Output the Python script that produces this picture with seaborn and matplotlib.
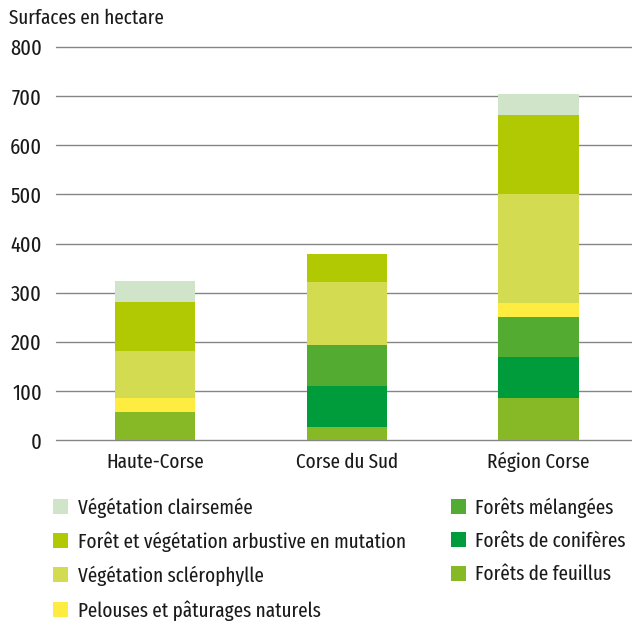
import matplotlib
matplotlib.use("Agg")
import matplotlib.pyplot as plt
from matplotlib.patches import Patch
import numpy as np
import seaborn as sns

# Surfaces (hectares) per territory and land-cover class
categories = ["Haute-Corse", "Corse du Sud", "Région Corse"]
feuillus = [57, 28, 86]
coniferes = [0, 83, 83]
melangees = [0, 82, 82]
pelouses = [30, 0, 29]
sclerophylle = [95, 128, 222]
mutation = [100, 58, 159]
clairsemee = [43, 0, 43]

# stacking order, bottom to top
series = [
    ("Forêts de feuillus", feuillus, "#86b925"),
    ("Forêts de conifères", coniferes, "#009b3b"),
    ("Forêts mélangées", melangees, "#53ab31"),
    ("Pelouses et pâturages naturels", pelouses, "#ffec40"),
    ("Végétation sclérophylle", sclerophylle, "#d3dc50"),
    ("Forêt et végétation arbustive en mutation", mutation, "#b0c903"),
    ("Végétation clairsemée", clairsemee, "#cfe4c8"),
]

sns.set_theme(style="white")
plt.rcParams["font.family"] = ["Fira Sans Extra Condensed", "Fira Sans Condensed",
                               "PT Sans Narrow", "DejaVu Sans"]
FS = 15

fig = plt.figure(figsize=(6.32, 6.23), dpi=100)
ax = fig.add_axes([56.4 / 632, 1 - 440.3 / 623, 575.6 / 632, (440.3 - 47) / 623])

# cumulative heights, drawn from the top layer down so lower layers overlay
cum = np.cumsum(np.array([s[1] for s in series], dtype=float), axis=0)
for i in range(len(series) - 1, -1, -1):
    name, _, col = series[i]
    sns.barplot(x=categories, y=cum[i], color=col, width=0.42, ax=ax,
                saturation=1, edgecolor="none", linewidth=0, zorder=3)

ax.set_xlim(-0.515, 2.487)
ax.set_ylim(0, 800)
ax.set_yticks(range(0, 801, 100))
ax.yaxis.grid(True, color="#858585", linewidth=1.0, zorder=0)
ax.set_axisbelow(True)
for gl in ax.get_ygridlines():
    gl.set_clip_on(False)
for s in ax.spines.values():
    s.set_visible(False)
ax.tick_params(axis="both", length=0, labelsize=FS, colors="#1a1a1a")
ax.tick_params(axis="y", labelsize=16, pad=10.5)
ax.tick_params(axis="x", pad=8.5)
ax.set_xlabel("")
ax.set_ylabel("")

fig.text(9 / 632, 1 - 18 / 623, "Surfaces en hectare", fontsize=FS,
         color="#1a1a1a", va="center", ha="left")

# legend: two columns
legend_order = [6, 5, 4, 3, 2, 1, 0]
handles = [Patch(facecolor=series[i][2], edgecolor="none") for i in legend_order]
labels = [series[i][0] for i in legend_order]
leg = fig.legend(handles, labels, ncol=2, loc="upper left",
                 bbox_to_anchor=(34 / 632, 1 - 478.5 / 623), frameon=False,
                 fontsize=FS, handlelength=0.745, handleheight=0.72,
                 handletextpad=0.45, columnspacing=2.15, labelspacing=0.66,
                 labelcolor="#1a1a1a")

fig.savefig("out.png", dpi=100)
